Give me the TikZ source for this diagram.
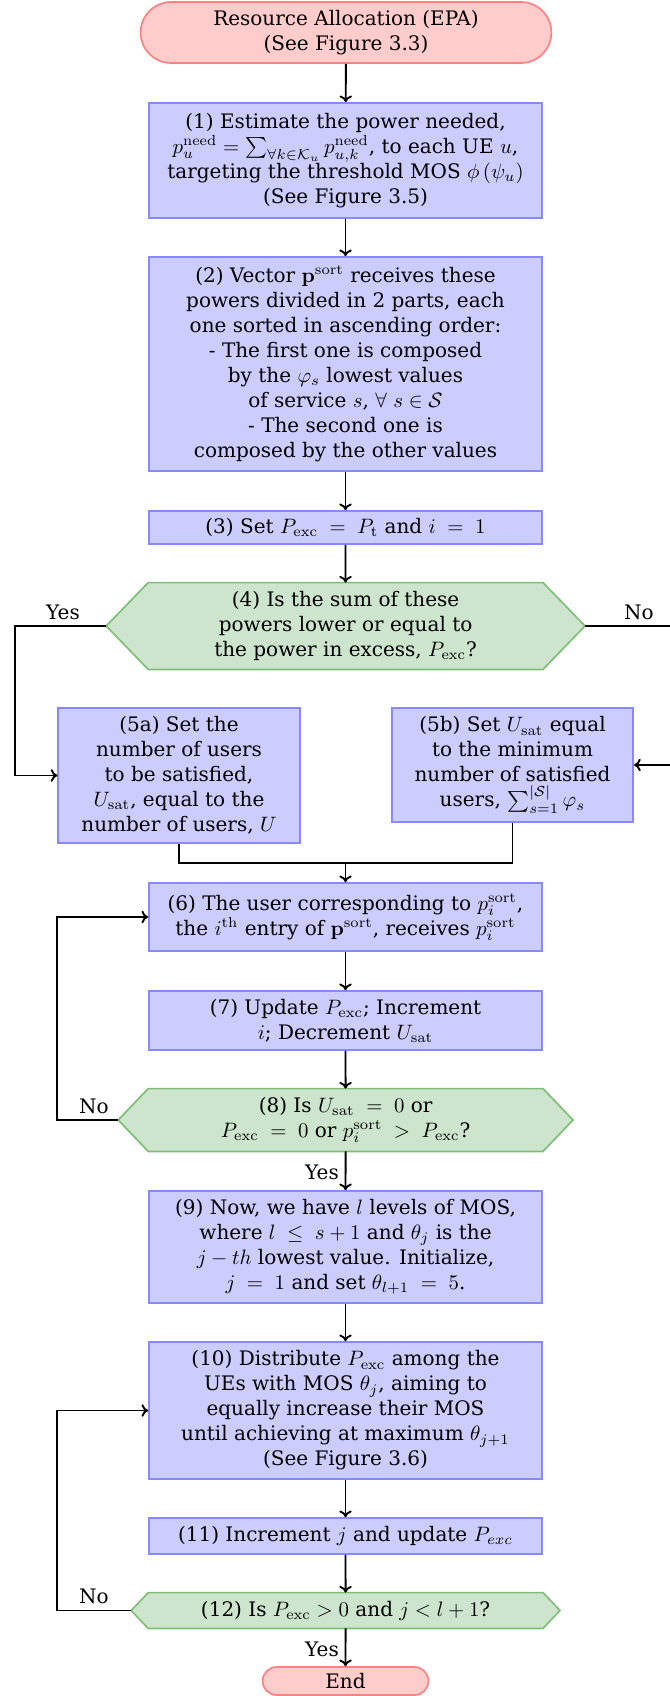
\documentclass[tikz,border=0pt]{standalone}
\usepackage{amsmath}
\usepackage[no-math]{fontspec}
\setmainfont{DejaVu Serif}
\usetikzlibrary{calc,shapes.misc,backgrounds,arrows.meta}

\definecolor{termfill}{RGB}{255,204,204}
\definecolor{termdraw}{RGB}{255,128,128}
\definecolor{procfill}{RGB}{204,204,255}
\definecolor{procdraw}{RGB}{136,136,255}
\definecolor{decfill}{RGB}{204,229,204}
\definecolor{decdraw}{RGB}{128,190,120}

\newcommand{\pu}{0.48pt}
\newcommand{\ex}{\mathrm{exc}}

% hexagonal frame behind a decision node; #2 = depth of the side points
\newcommand{\hexframe}[2]{%
  \coordinate (#1-l) at ($(#1.west)-(#2,0)$);
  \coordinate (#1-r) at ($(#1.east)+(#2,0)$);
  \begin{scope}[on background layer]
    \path[decshape] (#1.north west) -- (#1.north east) -- (#1-r)
      -- (#1.south east) -- (#1.south west) -- (#1-l) -- cycle;
  \end{scope}}

\tikzset{
  base/.style={align=center, font=\fontsize{9.6}{12}\selectfont, inner sep=1pt},
  term/.style={base, rounded rectangle, fill=termfill, draw=termdraw, line width=0.8pt},
  proc/.style={base, rectangle, fill=procfill, draw=procdraw, line width=0.8pt,
    minimum width={393*\pu}},
  decision/.style={base, rectangle, minimum width={394*\pu}},
  decshape/.style={fill=decfill, draw=decdraw, line width=0.8pt},
  flow/.style={-{To[length=3.2pt,width=6pt]}, line width=0.9pt, black},
  link/.style={line width=0.9pt, black},
  lbl/.style={font=\fontsize{9.6}{12}\selectfont, inner sep=0pt}
}

\begin{document}
\begin{tikzpicture}[x=0.48pt, y=-0.48pt]
\useasboundingbox (0,0) rectangle (669,1696);

\node[term, minimum width={415*\pu}, minimum height={61*\pu}] (start) at (346,32.5)
  {Resource Allocation (EPA)\\(See Figure 3.3)};

\node[proc, minimum height={115*\pu}] (b1) at (345.5,160.5)
  {(1) Estimate the power needed,\\
   $p_u^{\mathrm{need}} = \sum_{\forall k \in \mathcal{K}_u} p_{u,k}^{\mathrm{need}}$, to each UE $u$,\\
   targeting the threshold MOS $\phi\left(\psi_u\right)$\\
   (See Figure 3.5)};

\node[proc, minimum height={214*\pu}] (b2) at (345.5,364)
  {(2) Vector $\mathbf{p}^{\mathrm{sort}}$ receives these\\
   powers divided in 2 parts, each\\
   one sorted in ascending order:\\
   - The first one is composed\\
   by the $\varphi_s$ lowest values\\
   of service $s$, $\forall\ s \in \mathcal{S}$\\
   - The second one is\\
   composed by the other values};

\node[proc, minimum height={33*\pu}] (b3) at (345.5,527.5)
  {(3) Set $P_{\ex} \;=\; P_{\mathrm{t}}$ and $i \;=\; 1$};

\node[decision, minimum height={86*\pu}] (h4) at (345.6,626)
  {(4) Is the sum of these\\
   powers lower or equal to\\
   the power in excess, $P_{\ex}$?};
\hexframe{h4}{42}

\node[proc, minimum width={241.5*\pu}, minimum height={135*\pu}] (b5a) at (179,775.5)
  {(5a) Set the\\
   number of users\\
   to be satisfied,\\
   $U_{\mathrm{sat}}$, equal to the\\
   number of users, $U$};

\node[proc, minimum width={241.5*\pu}, minimum height={114*\pu}] (b5b) at (512.5,765)
  {(5b) Set $U_{\mathrm{sat}}$ equal\\
   to the minimum\\
   number of satisfied\\
   users, $\sum_{s=1}^{|\mathcal{S}|} \varphi_s$};

\node[proc, minimum height={68*\pu}] (b6) at (345.5,917)
  {(6) The user corresponding to $p_i^{\mathrm{sort}}$,\\
   the $i^{\mathrm{th}}$ entry of $\mathbf{p}^{\mathrm{sort}}$, receives $p_i^{\mathrm{sort}}$};

\node[proc, minimum height={59*\pu}] (b7) at (345.5,1020.5)
  {(7) Update $P_{\ex}$; Increment\\
   $i$; Decrement $U_{\mathrm{sat}}$};

\node[decision, minimum height={62*\pu}] (h8) at (345.6,1120)
  {(8) Is $U_{\mathrm{sat}} \;=\; 0$ or\\
   $P_{\ex} \;=\; 0$ or $p_i^{\mathrm{sort}} \;>\; P_{\ex}$?};
\hexframe{h8}{30}

\node[proc, minimum height={112*\pu}] (b9) at (345.5,1247)
  {(9) Now, we have $l$ levels of MOS,\\
   where $l \;\leq\; s+1$ and $\theta_j$ is the\\
   $j-th$ lowest value. Initialize,\\
   $j \;=\; 1$ and set $\theta_{l+1} \;=\; 5$.};

\node[proc, minimum height={137*\pu}] (b10) at (345.5,1410.5)
  {(10) Distribute $P_{\ex}$ among the\\
   UEs with MOS $\theta_j$, aiming to\\
   equally increase their MOS\\
   until achieving at maximum $\theta_{j+1}$\\
   (See Figure 3.6)};

\node[proc, minimum height={36*\pu}] (b11) at (345.5,1536)
  {(11) Increment $j$ and update $P_{exc}$};

\node[decision, minimum height={35*\pu}] (h12) at (345.6,1610.5)
  {(12) Is $P_{\ex} > 0$ and $j < l+1$?};
\hexframe{h12}{17}

\node[term, minimum width={170*\pu}, minimum height={28*\pu}] (end) at (345.5,1681)
  {End};

% main column
\draw[flow] (start) -- (b1);
\draw[flow] (b1) -- (b2);
\draw[flow] (b2) -- (b3);
\draw[flow] (b3) -- (h4);

% branch of decision (4)
\coordinate (yesturn) at (15,626);
\coordinate (noturn) at (672,626);
\draw[flow] (h4-l) -- (yesturn) |- (b5a.west);
\draw[flow] (h4-r) -- (noturn) |- (b5b.east);
\node[lbl] (yes4) at (63,612) {Yes};
\node[lbl] (no4) at (639,612) {No};

% merge into (6)
\coordinate (merge) at (345.5,863);
\draw[link] (b5a.south) |- (merge) -- (b5b.south |- merge) -- (b5b.south);
\draw[flow] (merge) -- (b6);

\draw[flow] (b6) -- (b7);
\draw[flow] (b7) -- (h8);

% loop of decision (8)
\coordinate (loop8) at (57,1120);
\draw[flow] (h8-l) -- (loop8) |- (b6.west);
\node[lbl] (no8) at (94,1106) {No};
\draw[flow] (h8) -- (b9);
\node[lbl] (yes8) at (322,1172) {Yes};

\draw[flow] (b9) -- (b10);
\draw[flow] (b10) -- (b11);
\draw[flow] (b11) -- (h12);

% loop of decision (12)
\coordinate (loop12) at (57,1610.5);
\draw[flow] (h12-l) -- (loop12) |- (b10.west);
\node[lbl] (no12) at (94,1596) {No};
\draw[flow] (h12) -- (end);
\node[lbl] (yes12) at (322,1649) {Yes};
\end{tikzpicture}
\end{document}
